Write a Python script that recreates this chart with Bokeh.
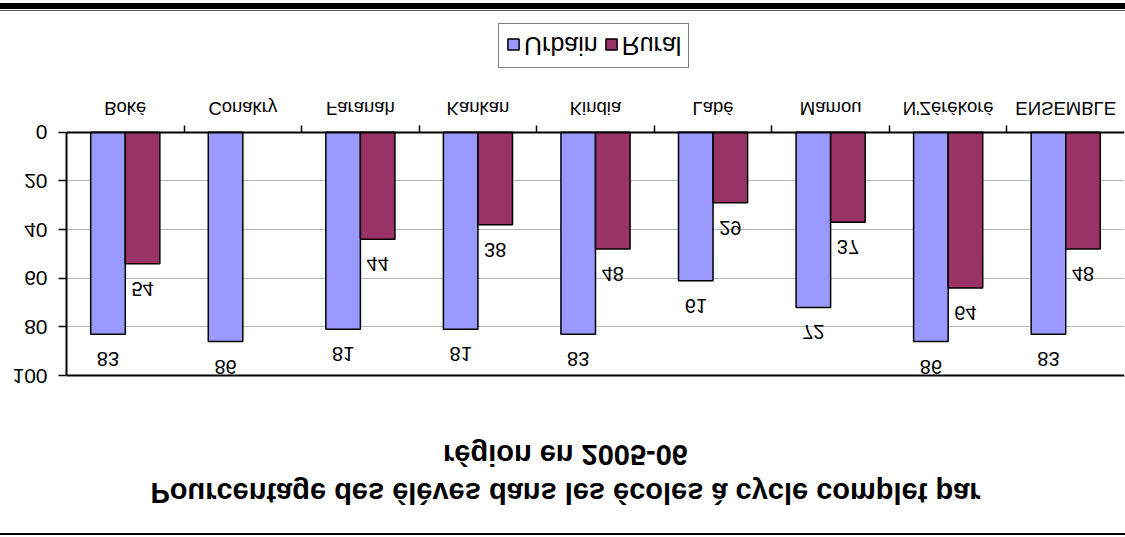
from bokeh.plotting import figure
from bokeh.models import (ColumnDataSource, FixedTicker, Range1d, Span, Label,
                          Legend, LegendItem)
from bokeh.transform import dodge
from bokeh.core.properties import value
from bokeh.embed import file_html
from bokeh.resources import INLINE

# ---- data -----------------------------------------------------------------
regions = ["Boké", "Conakry", "Faranah", "Kankan", "Kindia", "Labé",
           "Mamou", "N'Zérékoré", "ENSEMBLE"]
urbain = [83, 86, 81, 81, 83, 61, 72, 86, 83]
rural = [54, None, 44, 38, 48, 29, 37, 64, 48]
series_names = ["Urbain", "Rural"]
y_ticks = [0, 20, 40, 60, 80, 100]
title_lines = ["Pourcentage des élèves dans les écoles à cycle complet par",
               "région en 2005-06"]

FONT = "Liberation Sans"
URB_COLOR = "#9999FF"
RUR_COLOR = "#993366"
BAR_W = 0.294
n = len(regions)

# canvas geometry (pixels from the top of the canvas)
H = 522
PLOT_TOP, PLOT_BOTTOM = 156, 398          # where 100 and 0 sit
px_per_unit = (PLOT_BOTTOM - PLOT_TOP) / (y_ticks[-1] - y_ticks[0])
y_lo = y_ticks[0] - (H - PLOT_BOTTOM) / px_per_unit
y_hi = y_ticks[-1] + PLOT_TOP / px_per_unit

src_u = ColumnDataSource(dict(
    x=list(range(n)), top=urbain, label=[str(v) for v in urbain]))
rural_idx = [i for i, v in enumerate(rural) if v is not None]
src_r = ColumnDataSource(dict(
    x=rural_idx, top=[rural[i] for i in rural_idx],
    label=[str(rural[i]) for i in rural_idx]))

p = figure(width=1125, height=H, output_backend="svg", toolbar_location=None,
           tools="", x_range=Range1d(-0.5, n - 0.5),
           y_range=Range1d(y_lo, y_hi),
           min_border_left=66, min_border_right=1, min_border_top=0,
           min_border_bottom=0, outline_line_color=None,
           background_fill_color="white", border_fill_color="white")

# whole chart is shown mirrored top-to-bottom, framed by page rules
p.styles = {
    "transform": "scaleY(-1)",
    "transform-origin": "50% 267.5px",
    "box-sizing": "content-box",
    "border-top": "2px solid #000",
    "border-bottom": "1px solid #555",
    "box-shadow": "0 1px 0 0 #fff, 0 7px 0 0 #000",
}

# ---- bars -----------------------------------------------------------------
ru = p.vbar(x=dodge("x", -BAR_W / 2, range=p.x_range), top="top", bottom=0,
            width=BAR_W, source=src_u, fill_color=URB_COLOR,
            line_color="black", line_width=1.5)
rr = p.vbar(x=dodge("x", BAR_W / 2, range=p.x_range), top="top", bottom=0,
            width=BAR_W, source=src_r, fill_color=RUR_COLOR,
            line_color="black", line_width=1.5)

for src, off in ((src_u, -BAR_W / 2), (src_r, BAR_W / 2)):
    p.text(x=dodge("x", off, range=p.x_range), y="top", text="label",
           source=src, y_offset=-25, text_align="center",
           text_baseline="middle", text_font=value(FONT),
           text_font_size="20px", text_color="black")

# ---- axes & grid ----------------------------------------------------------
xa = p.xaxis[0]
xa.fixed_location = 0
xa.ticker = FixedTicker(ticks=list(range(n)),
                        minor_ticks=[i + 0.5 for i in range(n - 1)])
xa.major_label_overrides = {i: name for i, name in enumerate(regions)}
xa.major_tick_out = 0
xa.major_tick_in = 0
xa.minor_tick_out = 7
xa.minor_tick_in = 0
xa.minor_tick_line_color = "black"
xa.minor_tick_line_width = 1.5
xa.axis_line_color = "black"
xa.axis_line_width = 2
xa.major_label_standoff = 6
xa.major_label_text_font = FONT
xa.major_label_text_font_size = "18.5px"
xa.major_label_text_color = "black"

ya = p.yaxis[0]
ya.bounds = (y_ticks[0], y_ticks[-1])
ya.ticker = FixedTicker(ticks=y_ticks)
ya.major_tick_out = 8
ya.major_tick_in = 0
ya.minor_tick_out = 0
ya.minor_tick_in = 0
ya.major_tick_line_color = "black"
ya.major_tick_line_width = 1.5
ya.axis_line_color = "black"
ya.axis_line_width = 2
ya.major_label_standoff = 11
ya.major_label_text_font = FONT
ya.major_label_text_font_size = "21px"
ya.major_label_text_color = "black"

p.xgrid.visible = False
p.ygrid.ticker = FixedTicker(ticks=y_ticks[1:-1])
p.ygrid.grid_line_color = "#6e6e6e"
p.ygrid.grid_line_dash = "1 1"
p.ygrid.grid_line_width = 1

p.add_layout(Span(location=y_ticks[-1], dimension="width",
                  line_color="black", line_width=2))

# ---- legend (under the category labels) -----------------------------------
legend = Legend(items=[LegendItem(label=series_names[0], renderers=[ru]),
                       LegendItem(label=series_names[1], renderers=[rr])],
                location=(432, 15), orientation="horizontal",
                border_line_color="black", border_line_width=1.5,
                background_fill_color="white", background_fill_alpha=1,
                padding=7, spacing=6, margin=0,
                glyph_width=14, glyph_height=14, label_standoff=4,
                label_text_font=FONT, label_text_font_size="25px",
                label_text_color="black")
p.add_layout(legend)

# ---- two-line title -------------------------------------------------------
for line, baseline in zip(title_lines, (37, 75)):
    p.add_layout(Label(x=499, y=H - baseline, x_units="screen",
                       y_units="screen", text=line, text_align="center",
                       text_baseline="alphabetic", text_font=FONT,
                       text_font_style="bold", text_font_size="29px",
                       text_color="black"))

open("out.html", "w").write(file_html(p, INLINE))
